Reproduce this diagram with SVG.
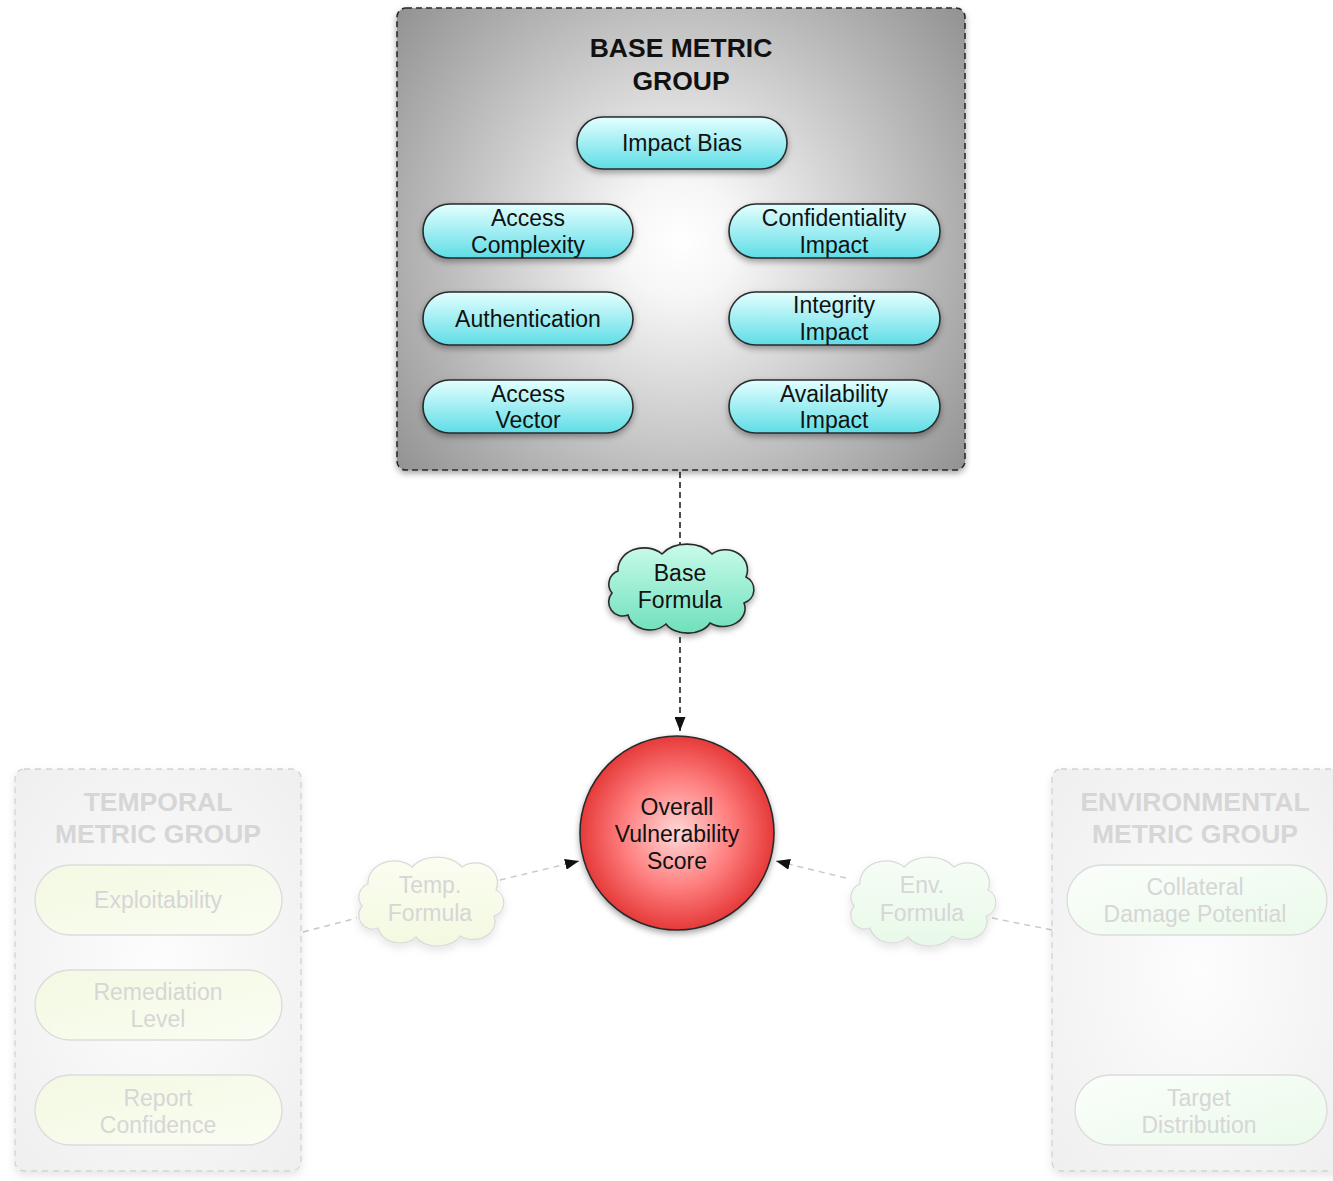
<svg xmlns="http://www.w3.org/2000/svg" width="1333" height="1181" viewBox="0 0 1333 1181">
<style>
.t{font-family:"Liberation Sans",Arial,sans-serif;font-size:23px;fill:#111;text-anchor:middle}
.title{font-family:"Liberation Sans",Arial,sans-serif;font-size:26.5px;font-weight:bold;fill:#111;text-anchor:middle}
.ft{fill:#d6d6d6}
.pill{fill:url(#cyan);stroke:#2a2a2a;stroke-width:1.6;filter:url(#sh)}
.fpillY{fill:url(#yel);stroke:#dcdcdc;stroke-width:1.4}
.fpillG{fill:url(#grn);stroke:#dcdcdc;stroke-width:1.4}
.conn{fill:none;stroke:#222;stroke-width:1.6;stroke-dasharray:6 4}
.fconn{fill:none;stroke:#c8c8c8;stroke-width:1.4;stroke-dasharray:6 5}
</style>
<defs>
<filter id="sh" x="-20%" y="-20%" width="140%" height="150%"><feDropShadow dx="0" dy="3" stdDeviation="3" flood-color="#000" flood-opacity="0.35"/></filter>
<filter id="shf" x="-20%" y="-20%" width="140%" height="150%"><feDropShadow dx="0" dy="4" stdDeviation="4" flood-color="#000" flood-opacity="0.1"/></filter>
<radialGradient id="gray" gradientUnits="userSpaceOnUse" cx="680" cy="240" r="390"><stop offset="0" stop-color="#ffffff"/><stop offset="0.15" stop-color="#f6f6f6"/><stop offset="1" stop-color="#8a8a8a"/></radialGradient>
<radialGradient id="fgray" cx="0.5" cy="0.5" r="0.7"><stop offset="0" stop-color="#fdfdfd"/><stop offset="1" stop-color="#efefef"/></radialGradient>
<linearGradient id="cyan" x1="0" y1="0" x2="0" y2="1"><stop offset="0" stop-color="#e4ffff"/><stop offset="1" stop-color="#5fdde6"/></linearGradient>
<linearGradient id="yel" x1="0" y1="0" x2="1" y2="1"><stop offset="0" stop-color="#f3f9e2"/><stop offset="1" stop-color="#fafdf3"/></linearGradient>
<linearGradient id="grn" x1="0" y1="0" x2="1" y2="1"><stop offset="0" stop-color="#fbfefb"/><stop offset="1" stop-color="#eafaea"/></linearGradient>
<linearGradient id="mint" x1="0" y1="0" x2="0" y2="1"><stop offset="0" stop-color="#c9fbe9"/><stop offset="1" stop-color="#6fe0bd"/></linearGradient>
<linearGradient id="fyel" x1="0" y1="0" x2="0" y2="1"><stop offset="0" stop-color="#fbfdf1"/><stop offset="1" stop-color="#f3f9e0"/></linearGradient>
<linearGradient id="fgrn" x1="0" y1="0" x2="0" y2="1"><stop offset="0" stop-color="#f6fdf6"/><stop offset="1" stop-color="#e8f9e8"/></linearGradient>
<radialGradient id="red" cx="0.5" cy="0.5" r="0.5"><stop offset="0" stop-color="#ffd8d8"/><stop offset="0.55" stop-color="#ff8080"/><stop offset="1" stop-color="#e63a3a"/></radialGradient>
<path id="cloud" d="M -62,-16 A 26 22 0 0 1 -18,-33 A 30 22 0 0 1 32,-33 A 22 20 0 0 1 66,-10 A 14 14 0 0 1 64,16 A 22 18 0 0 1 30,36 A 24 16 0 0 1 -14,37 A 22 18 0 0 1 -52,28 A 14 14 0 0 1 -68,6 A 14 14 0 0 1 -62,-16 Z"/>
<marker id="arr" viewBox="0 0 14 11" refX="14" refY="5.5" markerWidth="14" markerHeight="11" markerUnits="userSpaceOnUse" orient="auto"><path d="M0,0 L14,5.5 L0,11 Z" fill="#111"/></marker>
</defs>

<g id="connectors">
<line class="conn" x1="680" y1="472" x2="680" y2="550"/>
<line class="conn" x1="680" y1="627" x2="680" y2="731" marker-end="url(#arr)"/>
<line class="fconn" x1="303" y1="932" x2="357" y2="918"/>
<line class="fconn" x1="500" y1="880" x2="579" y2="861" marker-end="url(#arr)"/>
<line class="fconn" x1="846" y1="878" x2="776" y2="861" marker-end="url(#arr)"/>
<line class="fconn" x1="992" y1="918" x2="1052" y2="930"/>
</g>

<g id="base-group">
<rect x="397" y="8" width="568" height="462" rx="9" fill="url(#gray)" stroke="#2a2a2a" stroke-width="1.6" stroke-dasharray="6 4" filter="url(#sh)"/>
<text class="title" x="681" y="57">BASE METRIC</text>
<text class="title" x="681" y="90">GROUP</text>
</g>
<g id="impact-bias"><rect class="pill" x="577" y="117" width="210" height="52" rx="26"/><text class="t" x="682" y="151">Impact Bias</text></g>
<g id="access-complexity"><rect class="pill" x="423" y="204" width="210" height="54" rx="27"/><text class="t" x="528" y="226">Access</text><text class="t" x="528" y="253">Complexity</text></g>
<g id="confidentiality-impact"><rect class="pill" x="729" y="204" width="211" height="54" rx="27"/><text class="t" x="834" y="226">Confidentiality</text><text class="t" x="834" y="253">Impact</text></g>
<g id="authentication"><rect class="pill" x="423" y="292" width="210" height="53" rx="26.5"/><text class="t" x="528" y="327">Authentication</text></g>
<g id="integrity-impact"><rect class="pill" x="729" y="292" width="211" height="53" rx="26.5"/><text class="t" x="834" y="313">Integrity</text><text class="t" x="834" y="340">Impact</text></g>
<g id="access-vector"><rect class="pill" x="423" y="380" width="210" height="53" rx="26.5"/><text class="t" x="528" y="402">Access</text><text class="t" x="528" y="428">Vector</text></g>
<g id="availability-impact"><rect class="pill" x="729" y="380" width="211" height="53" rx="26.5"/><text class="t" x="834" y="402">Availability</text><text class="t" x="834" y="428">Impact</text></g>

<g id="base-formula"><use href="#cloud" transform="translate(680,587)" fill="url(#mint)" stroke="#2a2a2a" stroke-width="1.6" filter="url(#sh)"/><text class="t" x="680" y="581">Base</text><text class="t" x="680" y="608">Formula</text></g>

<g id="overall-score"><circle cx="677" cy="833" r="97" fill="url(#red)" stroke="#2a2a2a" stroke-width="1.6" filter="url(#sh)"/><text class="t" x="677" y="815">Overall</text><text class="t" x="677" y="842">Vulnerability</text><text class="t" x="677" y="869">Score</text></g>

<g id="temporal-group">
<rect x="15" y="769" width="286" height="402" rx="9" fill="url(#fgray)" stroke="#d2d2d2" stroke-width="1.3" stroke-dasharray="6 5" filter="url(#shf)"/>
<text class="title ft" x="158" y="811">TEMPORAL</text>
<text class="title ft" x="158" y="843">METRIC GROUP</text>
</g>
<g id="exploitability"><rect class="fpillY" x="35" y="865" width="247" height="70" rx="35"/><text class="t ft" x="158" y="908">Exploitability</text></g>
<g id="remediation-level"><rect class="fpillY" x="35" y="970" width="247" height="70" rx="35"/><text class="t ft" x="158" y="1000">Remediation</text><text class="t ft" x="158" y="1027">Level</text></g>
<g id="report-confidence"><rect class="fpillY" x="35" y="1075" width="247" height="70" rx="35"/><text class="t ft" x="158" y="1106">Report</text><text class="t ft" x="158" y="1133">Confidence</text></g>
<g id="temp-formula"><use href="#cloud" transform="translate(430,900)" fill="url(#fyel)" stroke="#dadada" stroke-width="1.3" filter="url(#shf)"/><text class="t ft" x="430" y="893">Temp.</text><text class="t ft" x="430" y="921">Formula</text></g>

<g id="environmental-group">
<rect x="1052" y="769" width="292" height="402" rx="9" fill="url(#fgray)" stroke="#d2d2d2" stroke-width="1.3" stroke-dasharray="6 5" filter="url(#shf)"/>
<text class="title ft" x="1195" y="811">ENVIRONMENTAL</text>
<text class="title ft" x="1195" y="843">METRIC GROUP</text>
</g>
<g id="collateral-damage"><rect class="fpillG" x="1067" y="865" width="260" height="70" rx="35"/><text class="t ft" x="1195" y="895">Collateral</text><text class="t ft" x="1195" y="922">Damage Potential</text></g>
<g id="target-distribution"><rect class="fpillG" x="1075" y="1075" width="252" height="70" rx="35"/><text class="t ft" x="1199" y="1106">Target</text><text class="t ft" x="1199" y="1133">Distribution</text></g>
<g id="env-formula"><use href="#cloud" transform="translate(922,900)" fill="url(#fgrn)" stroke="#dadada" stroke-width="1.3" filter="url(#shf)"/><text class="t ft" x="922" y="893">Env.</text><text class="t ft" x="922" y="921">Formula</text></g>
</svg>
